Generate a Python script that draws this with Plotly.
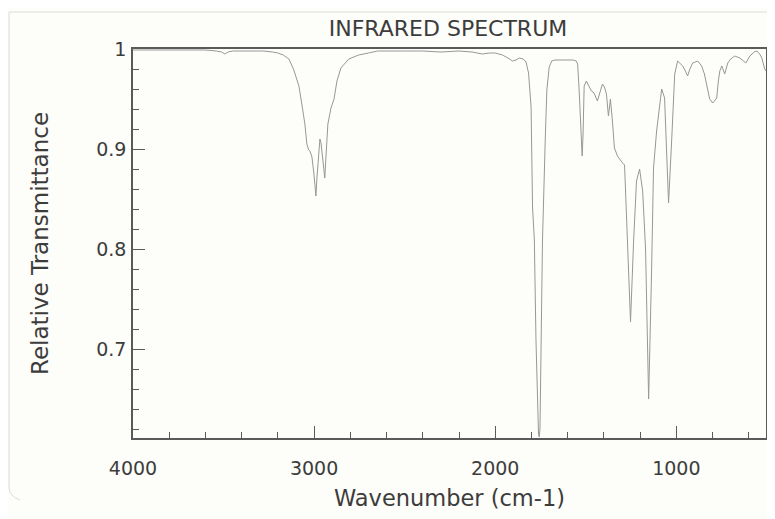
import plotly.graph_objects as go

# ---- data ----
wavenumber = [
    4000, 3900, 3800, 3700, 3600, 3540, 3510, 3493, 3475, 3450, 3350, 3280, 3230, 3200,
    3170, 3139, 3112, 3084, 3068, 3051, 3040, 3030, 3023, 3012, 3001, 2990, 2984, 2973,
    2968, 2962, 2957, 2946, 2941, 2935, 2924, 2907, 2890, 2874, 2852, 2809, 2754, 2699,
    2650, 2500, 2400, 2300, 2200, 2127, 2072, 2030, 2000, 1960, 1939, 1920, 1906, 1885,
    1867, 1845, 1830, 1816, 1802, 1794, 1784, 1775, 1761, 1757, 1753, 1747, 1739, 1724,
    1715, 1702, 1688, 1670, 1640, 1600, 1570, 1553, 1545, 1537, 1530, 1525, 1520, 1515,
    1509, 1497, 1480, 1469, 1460, 1452, 1436, 1425, 1419, 1408, 1397, 1386, 1375, 1364,
    1353, 1342, 1325, 1314, 1297, 1286, 1270, 1253, 1236, 1220, 1203, 1186, 1170, 1153,
    1137, 1126, 1109, 1092, 1081, 1065, 1054, 1043, 1026, 1009, 993, 980, 965, 950,
    938, 925, 910, 882, 860, 845, 832, 816, 799, 788, 777, 768, 760, 749,
    733, 716, 700, 677, 650, 616, 594, 570, 555, 540, 528, 512, 505,
]
transmittance = [
    0.999, 0.999, 0.999, 0.999, 0.999, 0.998, 0.997, 0.995, 0.997, 0.998, 0.998, 0.998, 0.997, 0.996,
    0.994, 0.990, 0.979, 0.963, 0.945, 0.925, 0.905, 0.899, 0.898, 0.892, 0.875, 0.853, 0.872, 0.906,
    0.910, 0.906, 0.898, 0.874, 0.871, 0.891, 0.925, 0.941, 0.950, 0.968, 0.981, 0.990, 0.994, 0.996,
    0.998, 0.998, 0.998, 0.997, 0.998, 0.997, 0.995, 0.996, 0.996, 0.994, 0.992, 0.990, 0.988, 0.989,
    0.991, 0.990, 0.987, 0.976, 0.942, 0.842, 0.809, 0.709, 0.615, 0.612, 0.620, 0.709, 0.809, 0.909,
    0.959, 0.982, 0.988, 0.989, 0.989, 0.989, 0.989, 0.988, 0.985, 0.960, 0.930, 0.905, 0.893, 0.915,
    0.963, 0.968, 0.962, 0.958, 0.957, 0.955, 0.948, 0.955, 0.958, 0.965, 0.962, 0.955, 0.933, 0.950,
    0.928, 0.901, 0.893, 0.890, 0.886, 0.884, 0.808, 0.727, 0.808, 0.868, 0.880, 0.858, 0.800, 0.650,
    0.775, 0.881, 0.918, 0.945, 0.960, 0.951, 0.890, 0.846, 0.908, 0.975, 0.988, 0.986, 0.983, 0.978,
    0.973, 0.980, 0.986, 0.988, 0.983, 0.975, 0.965, 0.950, 0.946, 0.948, 0.951, 0.968, 0.978, 0.983,
    0.975, 0.986, 0.990, 0.993, 0.991, 0.986, 0.993, 0.997, 0.998, 0.995, 0.991, 0.980, 0.978,
]

x_major_ticks = [4000, 3000, 2000, 1000]
x_major_labels = ["4000", "3000", "2000", "1000"]
y_major_ticks = [0.7, 0.8, 0.9, 1.0]
y_major_labels = ["0.7", "0.8", "0.9", "1"]

title_text = "INFRARED SPECTRUM"
x_title = "Wavenumber (cm-1)"
y_title = "Relative Transmittance"

# ---- figure ----
# The page body has an 8px margin, so the figure is laid out in page pixels minus 8.
OFF = 8
PAGE_W, PAGE_H = 775, 519
W, H = PAGE_W - OFF, PAGE_H - OFF
L, R, T, B = 133 - OFF, 766 - OFF, 49 - OFF, 438 - OFF
BG = "#fdfdf9"
TXT = "#3c3c3c"
AX = "#5a5a5a"
FONT = "DejaVu Sans"

fig = go.Figure()
fig.add_trace(go.Scatter(
    x=wavenumber, y=transmittance, mode="lines",
    line=dict(color="#979797", width=1),
    hoverinfo="skip", showlegend=False,
))

def px_to_paper(px, py):
    px -= OFF
    py -= OFF
    return (px - L) / (R - L), (B - py) / (B - T)

# faint outer border of the original image
x0, y0 = px_to_paper(9, 12)
x1, _ = px_to_paper(775, 12)
_, yb = px_to_paper(9, 488)
xc, yc = px_to_paper(20, 500)
fig.add_shape(type="path", xref="paper", yref="paper",
              path=f"M {xc} {yc} Q {x0} {yb - 0.02} {x0} {yb} L {x0} {y0} L {x1} {y0}",
              line=dict(color="#dcdcdc", width=1))

fig.update_layout(
    width=W, height=H,
    margin=dict(l=L, r=W - R, t=T, b=H - B, pad=0, autoexpand=False),
    paper_bgcolor=BG, plot_bgcolor=BG,
    font=dict(family=FONT, color=TXT, size=19),
    title=dict(text=title_text, x=(448 - OFF) / W, xanchor="center", xref="container",
               y=1 - (28 - OFF) / H, yanchor="middle", yref="container",
               font=dict(family=FONT, size=22, color=TXT), automargin=False),
    showlegend=False,
)

fig.update_xaxes(
    range=[4000, 505], automargin=False,
    showline=True, linecolor=AX, linewidth=1.5, mirror=True,
    showgrid=False, zeroline=False,
    tickmode="array", tickvals=x_major_ticks, ticktext=x_major_labels,
    ticks="inside", ticklen=12, tickwidth=1.2, tickcolor=AX,
    minor=dict(dtick=200, tick0=0, ticks="inside", ticklen=6, tickwidth=1.2, tickcolor=AX, showgrid=False),
    tickfont=dict(family=FONT, size=19, color=TXT),
    ticklabelstandoff=12,
    title=dict(text=x_title, font=dict(family=FONT, size=22.5, color=TXT), standoff=13),
)
fig.update_yaxes(
    range=[0.611, 1.0], automargin=False,
    showline=True, linecolor=AX, linewidth=1.5, mirror=True,
    showgrid=False, zeroline=False,
    tickmode="array", tickvals=y_major_ticks, ticktext=y_major_labels,
    ticks="inside", ticklen=12, tickwidth=1.2, tickcolor=AX,
    minor=dict(dtick=0.02, tick0=0, ticks="inside", ticklen=6, tickwidth=1.2, tickcolor=AX, showgrid=False),
    tickfont=dict(family=FONT, size=19, color=TXT),
    ticklabelstandoff=1,
    title=dict(text=y_title, font=dict(family=FONT, size=23, color=TXT), standoff=41),
)

fig.write_html("out.html")
